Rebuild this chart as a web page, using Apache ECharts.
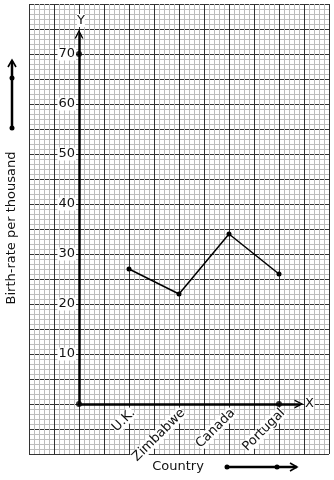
<!DOCTYPE html>
<html>
<head>
<meta charset="utf-8">
<script src="https://cdn.jsdelivr.net/npm/echarts@6/dist/echarts.min.js"></script>
<style>html,body{margin:0;padding:0;background:#fff}#c{width:334px;height:480px}</style>
</head>
<body>
<div id="c"></div>
<script>
// ---- data ----
var categories = ['U.K.', 'Zimbabwe', 'Canada', 'Portugal'];
var birthRates = [27, 22, 34, 26];
var yTickValues = [10, 20, 30, 40, 50, 60, 70];
var axisMarkPoints = [[0, 0], [0, 70], [4, 0]];
var yAxisTitle = 'Birth-rate per thousand';
var xAxisTitle = 'Country';

var chart = echarts.init(document.getElementById('c'), null, {renderer: 'canvas'});
var FONT = 'DejaVu Sans';
var lineData = categories.map(function (c, i) { return [i + 1, birthRates[i]]; });
var chevron = 'path://M0,10 L5,0 L10,10 L8.4,10 L5,3.2 L1.6,10 Z';

var paper = {left: 29, top: 4, width: 300, height: 450, containLabel: false, outerBoundsMode: 'none'};
function hiddenAxis(extra) {
  return Object.assign({
    type: 'value', axisLine: {show: false}, axisTick: {show: false},
    axisLabel: {show: false}, splitLine: {show: false}, silent: true
  }, extra);
}
function catLabel(v) { return Number.isInteger(v) && categories[v - 1] ? categories[v - 1] : ''; }

var option = {
  animation: false,
  backgroundColor: '#fff',
  grid: [
    {left: 79, top: 34, width: 220, height: 370, containLabel: false, outerBoundsMode: 'none'},
    Object.assign({}, paper),
    Object.assign({}, paper),
    // label carrier grid (same scale, nudged so rotated labels sit like the reference)
    {left: 83, top: 34, width: 220, height: 370, containLabel: false, outerBoundsMode: 'none'}
  ],
  xAxis: [
    {
      gridIndex: 0, type: 'value', min: 0, max: 4.4, interval: 1, z: 10,
      axisLine: {show: true, lineStyle: {color: '#000', width: 2.5}, symbol: ['none', chevron], symbolSize: [11, 9]},
      axisTick: {show: false}, splitLine: {show: false},
      axisLabel: {show: false},
      name: xAxisTitle, nameLocation: 'middle', nameGap: 56, nameMoveOverlap: false,
      nameTextStyle: {fontFamily: FONT, fontSize: 13, color: '#111', padding: [0, 22, 0, 0]}
    },
    hiddenAxis({gridIndex: 1, min: 0, max: 60, interval: 1, z: 2,
      splitLine: {show: true, lineStyle: {color: '#bdbdbd', width: 1}}}),
    hiddenAxis({gridIndex: 2, min: 0, max: 60, interval: 5, z: 3,
      splitLine: {show: true, lineStyle: {color: '#333', width: 1}}}),
    {
      gridIndex: 3, type: 'value', min: 0, max: 4.4, interval: 1, z: 11,
      axisLine: {show: false}, axisTick: {show: false}, splitLine: {show: false},
      axisLabel: {
        rotate: 45, margin: 7, fontFamily: FONT, fontSize: 13, color: '#111',
        backgroundColor: '#fff', formatter: catLabel
      }
    }
  ],
  yAxis: [
    {
      gridIndex: 0, type: 'value', min: 0, max: 74, interval: 10, z: 10,
      axisLine: {show: true, lineStyle: {color: '#000', width: 2.5}, symbol: ['none', chevron], symbolSize: [11, 9]},
      axisTick: {show: false}, splitLine: {show: false},
      axisLabel: {
        margin: 3, fontFamily: FONT, fontSize: 13, color: '#111',
        backgroundColor: '#fff', padding: [0, 1, 0, 1],
        formatter: function (v) { return yTickValues.indexOf(v) >= 0 ? String(v) : ''; }
      },
      name: yAxisTitle, nameLocation: 'middle', nameGap: 61, nameMoveOverlap: false,
      nameTextStyle: {fontFamily: FONT, fontSize: 13, color: '#111', padding: [0, 18, 0, 0]}
    },
    hiddenAxis({gridIndex: 1, min: 0, max: 90, interval: 1, z: 0,
      splitLine: {show: true, lineStyle: {color: '#bdbdbd', width: 1}}}),
    hiddenAxis({gridIndex: 2, min: 0, max: 90, interval: 5, z: 1,
      splitLine: {show: true, lineStyle: {color: '#333', width: 1}}}),
    hiddenAxis({gridIndex: 3, min: 0, max: 74})
  ],
  series: [
    {
      type: 'line', xAxisIndex: 0, yAxisIndex: 0, data: lineData, z: 12,
      lineStyle: {color: '#000', width: 1.5}, itemStyle: {color: '#000'},
      symbol: 'circle', symbolSize: 5, showSymbol: true
    },
    {
      type: 'scatter', xAxisIndex: 0, yAxisIndex: 0, data: axisMarkPoints, z: 12,
      symbol: 'circle', symbolSize: 6, itemStyle: {color: '#000'}
    }
  ],
  graphic: [
    {type: 'text', left: 77, top: 14, z: 20, style: {text: 'Y', fontFamily: FONT, fontSize: 13, fill: '#111', backgroundColor: '#fff'}},
    {type: 'text', left: 305, top: 397, z: 20, style: {text: 'X', fontFamily: FONT, fontSize: 13, fill: '#111', backgroundColor: '#fff'}},
    // left decorative arrow
    {type: 'line', z: 20, shape: {x1: 12, y1: 128, x2: 12, y2: 61}, style: {stroke: '#000', lineWidth: 2.5}},
    {type: 'polyline', z: 20, shape: {points: [[8, 67], [12, 60], [16, 67]]}, style: {stroke: '#000', lineWidth: 1.6, fill: null}},
    {type: 'circle', z: 20, shape: {cx: 12, cy: 78, r: 2.5}, style: {fill: '#000'}},
    {type: 'circle', z: 20, shape: {cx: 12, cy: 128, r: 2.5}, style: {fill: '#000'}},
    // bottom decorative arrow
    {type: 'line', z: 20, shape: {x1: 227, y1: 467, x2: 297, y2: 467}, style: {stroke: '#000', lineWidth: 2.5}},
    {type: 'polyline', z: 20, shape: {points: [[290, 463], [297, 467], [290, 471]]}, style: {stroke: '#000', lineWidth: 1.6, fill: null}},
    {type: 'circle', z: 20, shape: {cx: 227, cy: 467, r: 2.5}, style: {fill: '#000'}},
    {type: 'circle', z: 20, shape: {cx: 277, cy: 467, r: 2.5}, style: {fill: '#000'}}
  ]
};
chart.setOption(option);
</script>
</body>
</html>
